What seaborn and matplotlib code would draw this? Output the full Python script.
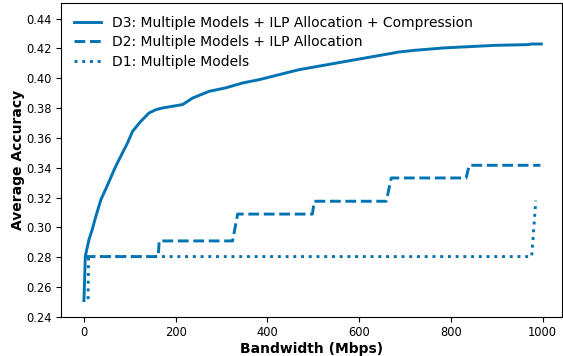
import matplotlib
matplotlib.use("Agg")
import matplotlib.pyplot as plt
import seaborn as sns
import pandas as pd

# D3: Multiple Models + ILP Allocation + Compression
d3_x = [0, 3, 11, 18, 26, 37, 47, 55, 66, 73, 84, 95, 106, 124, 142, 157, 171,
        215, 237, 273, 309, 346, 382, 469, 579, 688, 721, 786, 895, 968, 975, 997]
d3_y = [0.251, 0.2807, 0.2919, 0.2986, 0.3075, 0.3187, 0.3254, 0.3310, 0.3388,
        0.3433, 0.3500, 0.3567, 0.3645, 0.3712, 0.3768, 0.3790, 0.3801, 0.3824,
        0.3868, 0.3913, 0.3936, 0.3969, 0.3991, 0.4058, 0.4118, 0.4177, 0.4188,
        0.4204, 0.4221, 0.4226, 0.4230, 0.4230]

# D2: Multiple Models + ILP Allocation
d2_x = [1, 162, 164, 324, 335, 498, 502, 659, 670, 833, 840, 995]
d2_y = [0.2805, 0.2805, 0.291, 0.291, 0.309, 0.309, 0.3176, 0.3176, 0.3332,
        0.3332, 0.3417, 0.3417]

# D1: Multiple Models
d1_x = [9, 10, 976, 985]
d1_y = [0.252, 0.2805, 0.2805, 0.318]

labels = ["D3: Multiple Models + ILP Allocation + Compression",
          "D2: Multiple Models + ILP Allocation",
          "D1: Multiple Models"]
xticks = [0, 200, 400, 600, 800, 1000]
yticks = [0.24, 0.26, 0.28, 0.30, 0.32, 0.34, 0.36, 0.38, 0.40, 0.42, 0.44]

color = "#0173b2"

fig = plt.figure(figsize=(5.63, 3.56), dpi=100)
ax = fig.add_axes([61 / 563, 1 - 317 / 356, 500.5 / 563, 314 / 356])

series = [(d3_x, d3_y, "-"), (d2_x, d2_y, "--"), (d1_x, d1_y, ":")]
for (xs, ys, ls), lab in zip(series, labels):
    df = pd.DataFrame({"Bandwidth": xs, "Accuracy": ys})
    sns.lineplot(data=df, x="Bandwidth", y="Accuracy", ax=ax, color=color,
                 linestyle=ls, linewidth=2.1, estimator=None, sort=False,
                 label=lab)

ax.set_xlim(-50, 1041)
ax.set_ylim(0.24, 0.4505)
ax.set_xticks(xticks)
ax.set_yticks(yticks)
ax.set_yticklabels([f"{v:.2f}" for v in yticks])
ax.tick_params(labelsize=8.3, length=3.5, pad=3)
ax.set_xlabel("Bandwidth (Mbps)", fontsize=10, fontweight="bold", labelpad=2)
ax.set_ylabel("Average Accuracy", fontsize=10, fontweight="bold", labelpad=1)
ax.legend(loc="upper left", fontsize=10, frameon=False, labelspacing=0.42)

fig.savefig("out.png", dpi=100)
